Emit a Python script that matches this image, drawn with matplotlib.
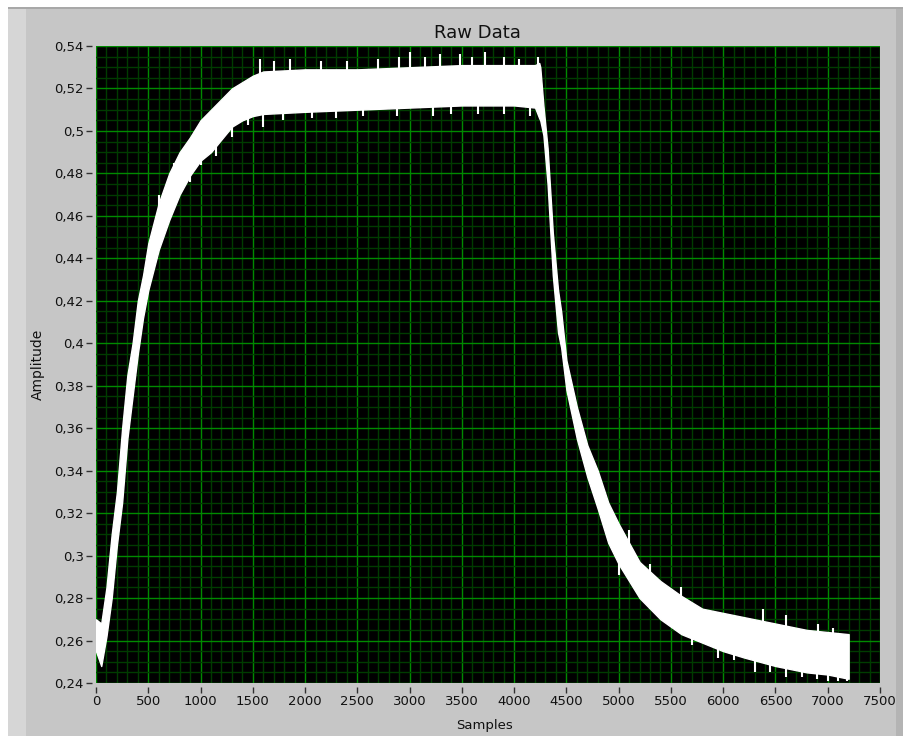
import matplotlib
matplotlib.use("Agg")
import matplotlib.pyplot as plt
from matplotlib.patches import Rectangle
from matplotlib.ticker import MultipleLocator, FuncFormatter

# envelope of the noisy trace (sample index -> amplitude)
samples = [0, 50, 100, 150, 200, 250, 300, 350, 400, 450, 500, 600, 700, 800, 900,
           1000, 1100, 1200, 1300, 1400, 1500, 1600, 2000, 2500, 3000, 3500, 4000,
           4200, 4240, 4250, 4280, 4320, 4370, 4420, 4450, 4500, 4600, 4700, 4800,
           4900, 5000, 5200, 5400, 5600, 5800, 6000, 6200, 6500, 6800, 7000, 7200]
lower = [0.255, 0.248, 0.262, 0.280, 0.305, 0.325, 0.355, 0.375, 0.395, 0.412, 0.425,
         0.444, 0.458, 0.470, 0.479, 0.486, 0.490, 0.496, 0.502, 0.505, 0.507, 0.508,
         0.509, 0.510, 0.511, 0.512, 0.512, 0.511, 0.506, 0.505, 0.498, 0.475, 0.432,
         0.405, 0.398, 0.378, 0.355, 0.337, 0.322, 0.306, 0.296, 0.280, 0.270, 0.263,
         0.259, 0.255, 0.252, 0.248, 0.245, 0.244, 0.242]
upper = [0.270, 0.268, 0.285, 0.310, 0.330, 0.360, 0.385, 0.400, 0.420, 0.432, 0.447,
         0.466, 0.480, 0.490, 0.497, 0.505, 0.510, 0.515, 0.520, 0.523, 0.526, 0.528,
         0.529, 0.529, 0.530, 0.531, 0.531, 0.531, 0.532, 0.530, 0.512, 0.492, 0.452,
         0.425, 0.415, 0.392, 0.370, 0.352, 0.340, 0.325, 0.315, 0.297, 0.288, 0.281,
         0.275, 0.273, 0.271, 0.268, 0.265, 0.264, 0.263]

# single noise spikes sticking out of the band: position, tip value, root value
spike_up_s = [600, 750, 1570, 1700, 1860, 2150, 2400, 2700, 2900, 3000, 3150, 3290,
              3480, 3600, 3720, 3900, 4050, 4230, 5100, 5300, 5600, 6380, 6600, 6910, 7053]
spike_up_tip = [0.470, 0.485, 0.534, 0.533, 0.534, 0.533, 0.533, 0.534, 0.535, 0.537,
                0.535, 0.536, 0.536, 0.535, 0.537, 0.535, 0.534, 0.535, 0.312, 0.296,
                0.285, 0.275, 0.272, 0.268, 0.266]
spike_up_root = [0.455, 0.470, 0.520, 0.520, 0.520, 0.520, 0.520, 0.520, 0.520, 0.520,
                 0.520, 0.520, 0.520, 0.520, 0.520, 0.520, 0.520, 0.520, 0.300, 0.285,
                 0.275, 0.262, 0.260, 0.256, 0.255]

spike_dn_s = [900, 1000, 1150, 1300, 1450, 1600, 1790, 2066, 2300, 2550, 2880, 3224,
              3400, 3650, 3900, 4152, 5000, 5300, 5700, 5950, 6100, 6300, 6450, 6600,
              6750, 6900, 7000, 7100, 7180]
spike_dn_tip = [0.476, 0.484, 0.488, 0.497, 0.503, 0.502, 0.505, 0.506, 0.506, 0.507,
                0.507, 0.507, 0.508, 0.508, 0.508, 0.507, 0.291, 0.275, 0.258, 0.252,
                0.251, 0.245, 0.245, 0.243, 0.243, 0.242, 0.241, 0.241, 0.241]
spike_dn_root = [0.490, 0.495, 0.500, 0.510, 0.515, 0.515, 0.515, 0.515, 0.515, 0.515,
                 0.515, 0.515, 0.515, 0.515, 0.515, 0.515, 0.305, 0.285, 0.270, 0.262,
                 0.260, 0.256, 0.256, 0.254, 0.254, 0.252, 0.252, 0.252, 0.252]

W, H = 904, 736
fig = plt.figure(figsize=(W / 100, H / 100), dpi=100, facecolor='white')


# LabVIEW style grey panel (behind the axes)
def panel(x, y, w, h, color):
    fig.patches.append(Rectangle((x / W, y / H), w / W, h / H, transform=fig.transFigure,
                                 facecolor=color, edgecolor='none', zorder=-10))


panel(8, 0, W - 8, H - 7, '#c6c6c6')
panel(8, 0, 18, H - 7, '#d6d6d6')
panel(8, H - 9, W - 8, 2, '#a8a8a8')
panel(896, 0, 8, H - 9, '#b4b4b4')

ax = fig.add_axes([96 / W, (H - 683) / H, 784 / W, 637 / H])
ax.set_facecolor('black')
ax.fill_between(samples, lower, upper, color='white', edgecolor='white', lw=1.0, zorder=3)
ax.vlines(spike_up_s, spike_up_root, spike_up_tip, color='white', lw=1.5, zorder=3)
ax.vlines(spike_dn_s, spike_dn_tip, spike_dn_root, color='white', lw=1.5, zorder=3)

ax.set_xlim(0, 7500)
ax.set_ylim(0.24, 0.54)
ax.xaxis.set_major_locator(MultipleLocator(500))
ax.xaxis.set_minor_locator(MultipleLocator(100))
ax.yaxis.set_major_locator(MultipleLocator(0.02))
ax.yaxis.set_minor_locator(MultipleLocator(0.005))
ax.yaxis.set_major_formatter(FuncFormatter(lambda v, p: f"{round(v, 2):g}".replace('.', ',')))

ax.set_axisbelow(True)
ax.grid(which='minor', color='#003c00', lw=1.0)
ax.grid(which='major', color='#008a00', lw=1.0)

for side in ['left', 'bottom']:
    ax.spines[side].set_position(('outward', 3))
for sp in ax.spines.values():
    sp.set_visible(False)
ax.tick_params(which='major', direction='out', length=4.3, width=1, color='#303030',
               labelsize=9.5, labelcolor='#111111', pad=1.5)
ax.tick_params(which='minor', length=0)

fig.text(477 / W, 1 - 33 / H, 'Raw Data', ha='center', va='center', fontsize=13, color='#111111')
fig.text(38 / W, 1 - 364 / H, 'Amplitude', ha='center', va='center', rotation=90,
         fontsize=10, color='#111111')
fig.text(485 / W, 1 - 725 / H, 'Samples', ha='center', va='center', fontsize=9.5, color='#111111')

fig.savefig('out.png', dpi=100, facecolor=fig.get_facecolor())
